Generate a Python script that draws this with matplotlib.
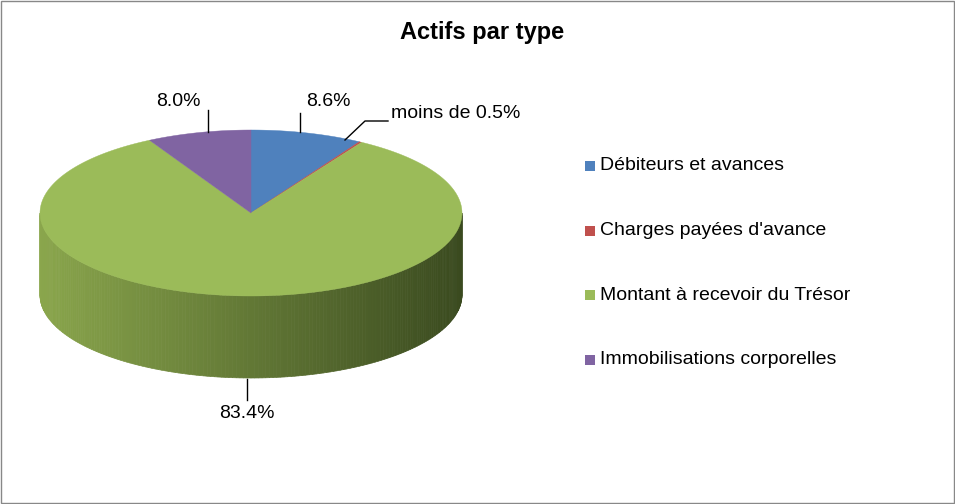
import numpy as np
import matplotlib.pyplot as plt
from matplotlib.patches import Polygon, Rectangle
import matplotlib.colors as mc

categories = ["Débiteurs et avances", "Charges payées d'avance",
              "Montant à recevoir du Trésor", "Immobilisations corporelles"]
values = [8.6, 0.2, 83.4, 8.0]
labels = ["8.6%", "moins de 0.5%", "83.4%", "8.0%"]
colors = ["#4F81BD", "#C0504D", "#9BBB59", "#8064A2"]

fig = plt.figure(figsize=(9.55, 5.04), dpi=100)
ax = fig.add_axes([0, 0, 1, 1])
ax.set_xlim(0, 955); ax.set_ylim(504, 0); ax.axis('off')
ax.add_patch(Rectangle((1, 1), 953, 502, fill=False, ec='#888888', lw=1))

cx, cy, rx, ry, depth = 251, 213, 211, 83, 82
def pt(th, off=0):
    t = np.radians(th)
    return cx + rx*np.cos(t), cy - ry*np.sin(t) + off

light = np.array(mc.to_rgb("#8aa64c")); dark = np.array(mc.to_rgb("#3a4a1f"))
ths = np.linspace(-180, 0, 181)
for a, b in zip(ths[:-1], ths[1:]):
    p = [pt(a), pt(b), pt(b, depth), pt(a, depth)]
    f = (np.cos(np.radians((a+b)/2)) + 1) / 2
    c = light*(1-f) + dark*f
    ax.add_patch(Polygon(p, closed=True, fc=c, ec=c, lw=0.5))

tot = sum(values)
start = 90
for v, col in zip(values, colors):
    end = start - v/tot*360
    arc = np.linspace(start, end, max(int(abs(start-end)), 2))
    p = [(cx, cy)] + [pt(t) for t in arc]
    ax.add_patch(Polygon(p, closed=True, fc=col, ec=col, lw=0.3))
    start = end

fs = 14
fam = 'Liberation Sans'
ax.text(328, 101, labels[0], ha='center', va='center', fontsize=fs, family=fam)
ax.text(391, 113, labels[1], ha='left', va='center', fontsize=fs, family=fam)
ax.plot([345, 365, 388], [140, 121, 121], color='black', lw=1)
ax.plot([300, 300], [132, 113], color='black', lw=1)
ax.text(178, 101, labels[3], ha='center', va='center', fontsize=fs, family=fam)
ax.plot([208, 208], [132, 110], color='black', lw=1)
ax.text(247, 413, labels[2], ha='center', va='center', fontsize=fs, family=fam)
ax.plot([247, 247], [379, 400], color='black', lw=1)

ax.text(482, 32, "Actifs par type", ha='center', va='center', fontsize=17,
        fontweight='bold', family=fam)

for i, (cat, col) in enumerate(zip(categories, colors)):
    y = 166 + i*64.5
    ax.add_patch(Rectangle((585, y-5), 10, 10, fc=col, ec='none'))
    ax.text(600, y, cat, ha='left', va='center', fontsize=fs, family=fam)

fig.savefig("out.png", dpi=100)
